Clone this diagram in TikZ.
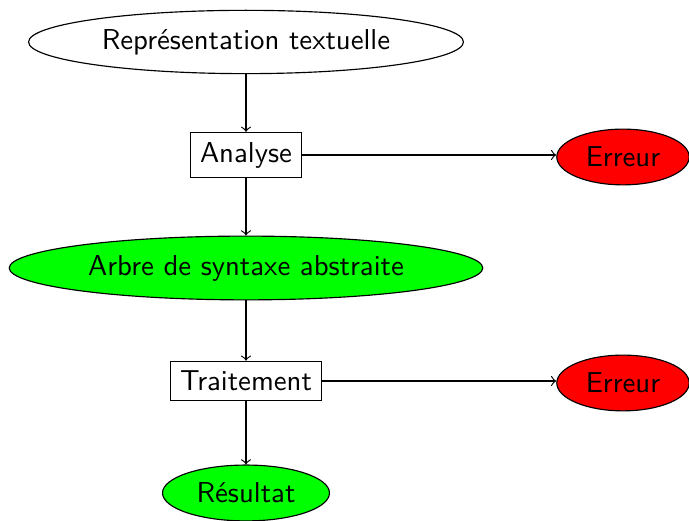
\documentclass[tikz,border=0pt]{standalone}
\usepackage{fontspec}
\usetikzlibrary{shapes.geometric}
\begin{document}
\begin{tikzpicture}[x=0.3472pt, y=-0.3472pt,
  every node/.style={font=\sffamily},
  ell/.style={ellipse, draw=black, line width=0.4pt},
  boxnode/.style={rectangle, draw=black, line width=0.4pt},
  okell/.style={ell, fill=green},
  errell/.style={ell, fill=red},
  link/.style={->, >=to, line width=0.4pt}]
\useasboundingbox (0,0) rectangle (689,521);
\node[ell] (rep) at (246,42) {Représentation textuelle};
\node[boxnode] (ana) at (246,155) {Analyse};
\node[errell] (err1) at (623,157) {Erreur};
\node[okell] (asa) at (246,268) {Arbre de syntaxe abstraite};
\node[boxnode] (tra) at (246,381) {Traitement};
\node[errell] (err2) at (623,383) {Erreur};
\node[okell] (res) at (246,493) {Résultat};
\draw[link] (rep) -- (ana);
\draw[link] (ana) -- (ana -| err1.west);
\draw[link] (ana) -- (asa);
\draw[link] (asa) -- (tra);
\draw[link] (tra) -- (tra -| err2.west);
\draw[link] (tra) -- (res);
\end{tikzpicture}
\end{document}
